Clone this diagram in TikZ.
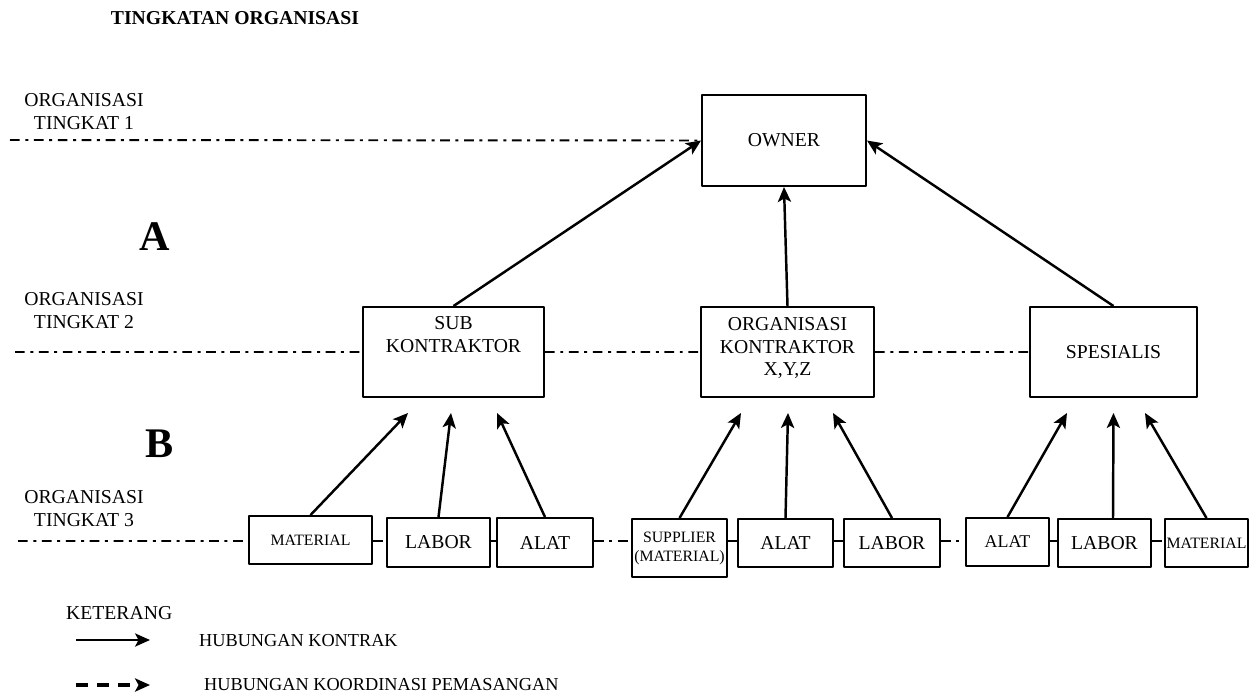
\documentclass[tikz,border=0pt]{standalone}
\usepackage{fontspec}
\setmainfont{Liberation Serif}
\usetikzlibrary{arrows.meta}
\begin{document}
\begin{tikzpicture}[x=0.2mm, y=-0.2mm, font=\fontsize{11.2}{12.8}\selectfont, line join=round, >={Stealth[length=8.5pt,width=7.5pt,inset=2pt]},
	box/.style={draw, line width=1.1pt, inner sep=0pt, align=center},
	lvl/.style={line width=1.1pt, dash pattern=on 5.5pt off 3.2pt on 1.7pt off 3.2pt},
	arr/.style={->, line width=1.4pt},
	small/.style={font=\fontsize{9}{10.8}\selectfont},
	legend/.style={anchor=west, font=\fontsize{10.4}{12}\selectfont}]
	\useasboundingbox (0,0) rectangle (1254,693);
	\node[font=\fontsize{11.2}{12.8}\selectfont\bfseries] (judul) at (235,18.5) {TINGKATAN ORGANISASI};
	% kotak tingkat 1 dan 2
	\node[box, minimum width=32.8mm, minimum height=18.2mm] (owner) at (784,140.5) {OWNER};
	\node[box, minimum width=36.2mm, minimum height=18mm] (sub) at (453.5,352) {};
	\node[box, minimum width=34.6mm, minimum height=18mm] (org) at (787.5,352) {};
	\node[box, minimum width=33.4mm, minimum height=18mm] (spes) at (1113.5,352) {SPESIALIS};
	\node[align=center] (subtxt) at ([shift={(0,-17.5)}]sub) {SUB\\KONTRAKTOR};
	\node[align=center] (orgtxt) at ([shift={(0,-4)}]org) {ORGANISASI\\KONTRAKTOR\\X,Y,Z};
	% kotak tingkat 3
	\node[box, small, minimum width=24.6mm, minimum height=9.6mm] (mat1) at (310.5,540) {MATERIAL};
	\node[box, minimum width=20.6mm, minimum height=9.8mm] (lab1) at (438.5,542.5) {LABOR};
	\node[box, minimum width=19.2mm, minimum height=9.8mm] (alat1) at (545,542.5) {ALAT};
	\node[box, small, minimum width=19mm, minimum height=11.6mm] (sup) at (679.5,548) {SUPPLIER\\(MATERIAL)};
	\node[box, minimum width=19mm, minimum height=9.6mm] (alat2) at (785.5,543) {ALAT};
	\node[box, minimum width=19.2mm, minimum height=9.6mm] (lab2) at (892,543) {LABOR};
	\node[box, font=\fontsize{10.2}{12}\selectfont, minimum width=16.6mm, minimum height=9.6mm] (alat3) at (1007.5,542) {ALAT};
	\node[box, minimum width=18.6mm, minimum height=9.6mm] (lab3) at (1104.5,543) {LABOR};
	\node[box, small, minimum width=16.6mm, minimum height=9.6mm] (mat3) at (1206.5,543) {MATERIAL};
	% label tingkat
	\node[align=center] (tk1) at (84,111.5) {ORGANISASI\\TINGKAT 1};
	\node[align=center] (tk2) at (84,310.5) {ORGANISASI\\TINGKAT 2};
	\node[align=center] (tk3) at (84,508.5) {ORGANISASI\\TINGKAT 3};
	\node[font=\fontsize{24}{28}\selectfont\bfseries] (A) at (155,237) {A};
	\node[font=\fontsize{24}{28}\selectfont\bfseries] (B) at (160,444) {B};
	% garis tingkat
	\path (10,140) coordinate (l1) (15,352) coordinate (l2) (18,541) coordinate (l3);
	\draw[lvl] (l1)--(owner.west) (l2)--(sub.west) (sub.east)--(org.west) (org.east)--(spes.west) (l3)--(l3 -| mat1.west);
	\foreach \a/\b in {mat1/lab1,lab1/alat1,alat1/sup,sup/alat2,alat2/lab2,lab2/alat3,alat3/lab3,lab3/mat3}{\draw[lvl] (\a.east |- l3)--(\b.west |- l3);}
	% hubungan kontrak
	\draw[arr] (sub.north)--(owner.west);
	\draw[arr] (org.north)--(owner.south);
	\draw[arr] (spes.north)--(owner.east);
	\foreach \a/\b/\d in {mat1/sub/-45.5,lab1/sub/-2.5,alat1/sub/43.5,sup/org/-46.5,alat2/org/0.5,lab2/org/45.5,alat3/spes/-46.5,mat3/spes/31.5}{\draw[arr] (\a.north)--([shift={(\d,15)}]\b.south);}
	\draw[arr] ([shift={(8.5,0)}]lab3.north)--([shift={(0,15)}]spes.south);
	% keterangan
	\node[anchor=west] (ket) at (60,613) {KETERANG};
	\path (76,640) coordinate (k1) (150,640) coordinate (k2) (76,685) coordinate (k3) (150,685) coordinate (k4);
	\draw[arr] (k1)--(k2);
	\draw[arr, line width=1.8pt, dash pattern=on 7pt off 5pt] (k3)--(k4);
	\node[legend] (kontrak) at (193,641) {HUBUNGAN KONTRAK};
	\node[legend] (koord) at (198,685) {HUBUNGAN KOORDINASI PEMASANGAN};
\end{tikzpicture}
\end{document}
